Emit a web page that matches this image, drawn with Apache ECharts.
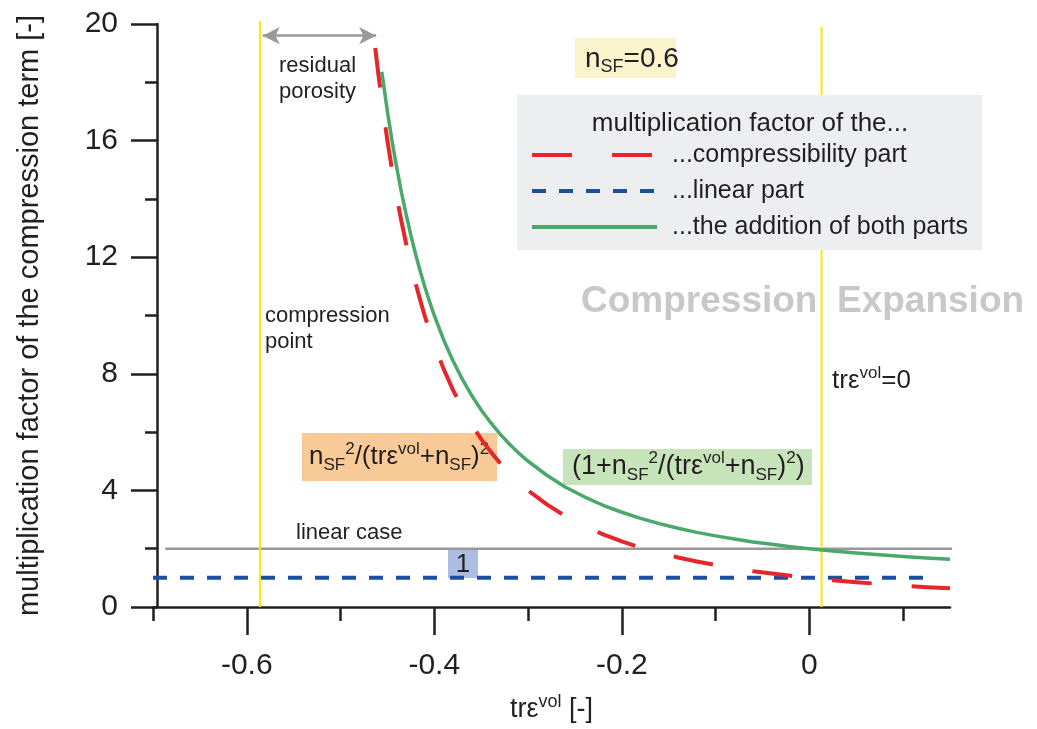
<!DOCTYPE html>
<html><head><meta charset="utf-8">
<script src="https://cdn.jsdelivr.net/npm/echarts@6/dist/echarts.min.js"></script>
<style>html,body{margin:0;padding:0;background:#fff}#c{width:1037px;height:729px}</style>
</head><body><div id="c"></div>
<script>
// ---- data ----
const xMajorTicks = [-0.6, -0.4, -0.2, 0];
const xMinorTicks = [-0.7, -0.5, -0.3, -0.1, 0.1];
const yTickInterval = 4;

const compressX = [-0.463, -0.46, -0.455, -0.45, -0.445, -0.44, -0.435, -0.43, -0.425, -0.42, -0.415, -0.41, -0.405, -0.40, -0.39, -0.38, -0.37, -0.36, -0.35, -0.34, -0.33, -0.32, -0.31, -0.30, -0.28, -0.26, -0.24, -0.22, -0.20, -0.18, -0.16, -0.14, -0.12, -0.10, -0.08, -0.06, -0.04, -0.02, 0.00, 0.025, 0.05, 0.075, 0.10, 0.125, 0.15];
const compressY = [19.18, 18.37, 17.12, 16.00, 14.98, 14.06, 13.22, 12.46, 11.76, 11.11, 10.52, 9.97, 9.47, 9.00, 8.16, 7.44, 6.81, 6.25, 5.76, 5.33, 4.94, 4.59, 4.28, 4.00, 3.52, 3.11, 2.78, 2.49, 2.25, 2.04, 1.86, 1.70, 1.56, 1.44, 1.33, 1.23, 1.15, 1.07, 1.00, 0.92, 0.85, 0.79, 0.73, 0.68, 0.64];

const sumX = [-0.456, -0.45, -0.445, -0.44, -0.435, -0.43, -0.425, -0.42, -0.415, -0.41, -0.405, -0.40, -0.39, -0.38, -0.37, -0.36, -0.35, -0.34, -0.33, -0.32, -0.31, -0.30, -0.28, -0.26, -0.24, -0.22, -0.20, -0.18, -0.16, -0.14, -0.12, -0.10, -0.08, -0.06, -0.04, -0.02, 0.00, 0.025, 0.05, 0.075, 0.10, 0.125, 0.15];
const sumY = [18.36, 17.00, 15.98, 15.06, 14.22, 13.46, 12.76, 12.11, 11.52, 10.97, 10.47, 10.00, 9.16, 8.44, 7.81, 7.25, 6.76, 6.33, 5.94, 5.59, 5.28, 5.00, 4.52, 4.11, 3.78, 3.49, 3.25, 3.04, 2.86, 2.70, 2.56, 2.44, 2.33, 2.23, 2.15, 2.07, 2.00, 1.92, 1.85, 1.79, 1.73, 1.68, 1.64];

const linearPartX = [-0.7, 0.135];
const linearPartY = [1, 1];
const linearCaseX = [-0.687, 0.165];
const linearCaseY = [2, 2];
const compressionPointX = -0.586;
const zeroStrainX = 0.013;
const yellowTop = [20.1, 19.9];
const residualArrowX = [-0.583, -0.462];
const residualArrowY = 19.6;

const seriesNames = ['...compressibility part', '...linear part', '...the addition of both parts'];

// ---- build ----
const F = '"Liberation Sans", Arial, Helvetica, sans-serif';
const zip = (xs, ys) => xs.map((x, i) => [x, ys[i]]);

function rich(main, small, color) {
  const L = Math.round(main * 1.25);
  return {
    m: {fontSize: main, fontFamily: F, fill: color || '#231f20', lineHeight: L},
    sb: {fontSize: small, fontFamily: F, fill: color || '#231f20', lineHeight: small, verticalAlign: 'bottom'},
    sp: {fontSize: small, fontFamily: F, fill: color || '#231f20', lineHeight: small, verticalAlign: 'top'}
  };
}

const chart = echarts.init(document.getElementById('c'), null, {renderer: 'canvas'});
const axisColor = '#231f20';

const option = {
  animation: false,
  backgroundColor: '#ffffff',
  grid: {left: 153, right: 87, top: 24, bottom: 122, containLabel: false},
  xAxis: [{
    type: 'value', min: -0.7, max: 0.15,
    axisLine: {show: true, onZero: false, lineStyle: {color: axisColor, width: 2.5}},
    axisTick: {show: true, customValues: xMajorTicks, length: 28, lineStyle: {color: axisColor, width: 2.5}},
    axisLabel: {show: true, customValues: xMajorTicks, margin: 44, fontSize: 30, fontFamily: F, color: axisColor,
      formatter: v => String(v)},
    splitLine: {show: false},
    name: '{m|trε}{sp|vol}{m| [-]}',
    nameLocation: 'middle', nameGap: 86,
    nameTextStyle: {rich: {
      m: {fontSize: 27, fontFamily: F, color: axisColor, lineHeight: 34},
      sp: {fontSize: 18, fontFamily: F, color: axisColor, lineHeight: 18, verticalAlign: 'top'}
    }}
  }, {
    type: 'value', min: -0.7, max: 0.15, position: 'bottom',
    axisLine: {show: false},
    axisTick: {show: true, customValues: xMinorTicks, length: 14, lineStyle: {color: axisColor, width: 2.5}},
    axisLabel: {show: false},
    splitLine: {show: false}
  }],
  yAxis: {
    type: 'value', min: 0, max: 20, interval: yTickInterval, offset: -4,
    axisLine: {show: true, onZero: false, lineStyle: {color: axisColor, width: 2.5}},
    axisTick: {show: true, length: 26, lineStyle: {color: axisColor, width: 2.5}},
    minorTick: {show: true, splitNumber: 2, length: 12, lineStyle: {color: axisColor, width: 2.5}},
    axisLabel: {margin: 39, fontSize: 30, fontFamily: F, color: axisColor},
    splitLine: {show: false},
    minorSplitLine: {show: false},
    name: 'multiplication factor of the compression term [-]',
    nameLocation: 'middle', nameGap: 113,
    nameTextStyle: {fontSize: 29, fontFamily: F, color: axisColor}
  },
  legend: {
    data: seriesNames,
    orient: 'vertical', left: 517, top: 95,
    padding: [47, 14, 10, 13],
    backgroundColor: '#edeef0',
    itemWidth: 125, itemHeight: 14, itemGap: 10,
    selectedMode: false,
    itemStyle: {opacity: 0},
    lineStyle: {opacity: 1, width: 4},
    textStyle: {fontSize: 25, fontFamily: F, color: axisColor, lineHeight: 26, padding: [0, 0, 0, 10]}
  },
  series: [
    {
      name: 'linear case', type: 'line', data: zip(linearCaseX, linearCaseY), symbol: 'none', clip: false, z: 2,
      color: '#999999', lineStyle: {color: '#999999', width: 2.5}, silent: true,
      markLine: {
        silent: true, symbol: ['arrow', 'arrow'], symbolSize: [13, 17], label: {show: false},
        lineStyle: {color: '#999999', width: 2.5, type: 'solid'},
        data: [[{coord: [residualArrowX[0], residualArrowY]}, {coord: [residualArrowX[1], residualArrowY]}]]
      }
    },
    {
      name: 'compression point', type: 'line', data: [[compressionPointX, 0], [compressionPointX, yellowTop[0]]],
      symbol: 'none', clip: false, z: 3, color: '#ffe800', lineStyle: {color: '#ffe800', width: 2}, silent: true
    },
    {
      name: 'zero strain', type: 'line', data: [[zeroStrainX, 0], [zeroStrainX, yellowTop[1]]],
      symbol: 'none', clip: false, z: 3, color: '#ffe800', lineStyle: {color: '#ffe800', width: 2}, silent: true
    },
    {
      name: seriesNames[1], type: 'line', data: zip(linearPartX, linearPartY), symbol: 'none', clip: false, z: 4,
      color: '#1c4fa1', lineStyle: {color: '#1c4fa1', width: 4, type: [14, 13]}
    },
    {
      name: seriesNames[0], type: 'line', data: zip(compressX, compressY), symbol: 'none', smooth: false, clip: false, z: 5,
      color: '#e5262b', lineStyle: {color: '#e5262b', width: 4, type: [40, 40], join: 'round'}
    },
    {
      name: seriesNames[2], type: 'line', data: zip(sumX, sumY), symbol: 'none', smooth: false, clip: false, z: 5,
      color: '#4aa86a', lineStyle: {color: '#4aa86a', width: 3.5, join: 'round'}
    }
  ],
  graphic: [
    // background boxes
    {type: 'rect', z: 0, shape: {x: 575, y: 38, width: 101, height: 40}, style: {fill: '#faf3cc'}},
    {type: 'rect', z: 0, shape: {x: 302, y: 433, width: 195, height: 48}, style: {fill: '#f7ca98'}},
    {type: 'rect', z: 0, shape: {x: 563, y: 449, width: 249, height: 36}, style: {fill: '#c6e3b9'}},
    {type: 'rect', z: 0, shape: {x: 448, y: 550, width: 30, height: 28}, style: {fill: '#adbde1'}},
    // texts
    {type: 'text', z: 1, x: 585, y: 59, style: {text: '{m|n}{sb|SF}{m|=0.6}', rich: rich(28, 18), verticalAlign: 'middle', align: 'left'}},
    {type: 'text', z: 1, x: 309, y: 457, style: {text: '{m|n}{sb|SF}{sp|2}{m|/(trε}{sp|vol}{m|+n}{sb|SF}{m|)}{sp|2}', rich: rich(26, 17), verticalAlign: 'middle', align: 'left'}},
    {type: 'text', z: 1, x: 572, y: 467, style: {text: '{m|(1+n}{sb|SF}{sp|2}{m|/(trε}{sp|vol}{m|+n}{sb|SF}{m|)}{sp|2}{m|)}', rich: rich(27, 17), verticalAlign: 'middle', align: 'left'}},
    {type: 'text', z: 1, x: 832, y: 381, style: {text: '{m|trε}{sp|vol}{m|=0}', rich: rich(26, 17), verticalAlign: 'middle', align: 'left'}},
    {type: 'text', z: 1, x: 463, y: 565, style: {text: '1', fontSize: 26, fontFamily: F, fill: '#231f20', verticalAlign: 'middle', align: 'center'}},
    {type: 'text', z: 1, x: 279, y: 79, style: {text: 'residual\nporosity', fontSize: 22, lineHeight: 26, fontFamily: F, fill: '#231f20', verticalAlign: 'middle', align: 'left'}},
    {type: 'text', z: 1, x: 265, y: 329, style: {text: 'compression\npoint', fontSize: 22, lineHeight: 26, fontFamily: F, fill: '#231f20', verticalAlign: 'middle', align: 'left'}},
    {type: 'text', z: 1, x: 296, y: 533, style: {text: 'linear case', fontSize: 22, fontFamily: F, fill: '#231f20', verticalAlign: 'middle', align: 'left'}},
    {type: 'text', z: 1, x: 581, y: 302, style: {text: 'Compression', fontSize: 37, fontWeight: 'bold', fontFamily: F, fill: '#c8c8c8', verticalAlign: 'middle', align: 'left'}},
    {type: 'text', z: 1, x: 837, y: 302, style: {text: 'Expansion', fontSize: 37, fontWeight: 'bold', fontFamily: F, fill: '#c8c8c8', verticalAlign: 'middle', align: 'left'}},
    {type: 'text', z: 10, x: 750, y: 124, style: {text: 'multiplication factor of the...', fontSize: 26, fontFamily: F, fill: '#231f20', verticalAlign: 'middle', align: 'center'}}
  ]
};
chart.setOption(option);
</script>
</body></html>
